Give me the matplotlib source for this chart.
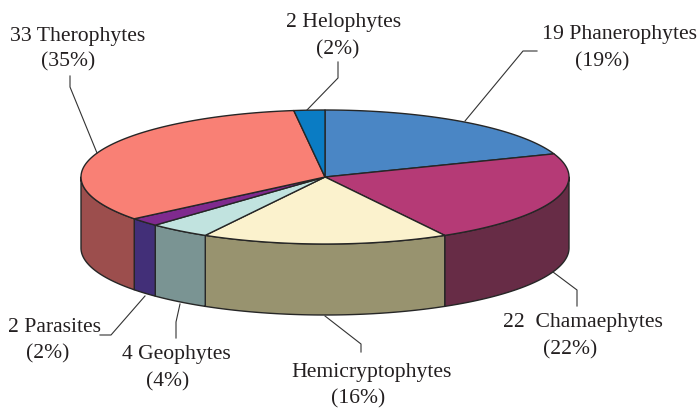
import matplotlib
matplotlib.use("Agg")
import matplotlib.pyplot as plt
import numpy as np
from matplotlib.patches import Polygon

# clockwise from 12 o'clock
species = ["Phanerophytes", "Chamaephytes", "Hemicryptophytes", "Geophytes",
           "Parasites", "Therophytes", "Helophytes"]
counts = [19, 22, 16, 4, 2, 33, 2]
top_colors = ["#4a86c5", "#b53a76", "#fbf2cd", "#c1e3df", "#7f2a8e", "#f98075", "#0a7cc4"]
side_colors = ["#2f5580", "#672c46", "#98936f", "#7a9493", "#422f78", "#9c4e4d", "#06507f"]

names = ["19 Phanerophytes", "22  Chamaephytes", "Hemicryptophytes", "4 Geophytes",
         "2 Parasites", "33 Therophytes", "2 Helophytes"]
percents = ["(19%)", "(22%)", "(16%)", "(4%)", "(2%)", "(35%)", "(2%)"]
name_xy = [(620, 35), (583, 322), (371, 372), (176, 355), (55, 328), (78, 36), (344, 23)]
percent_xy = [(602, 62), (570, 350), (358, 399), (168, 382), (48, 354), (68, 62), (338, 50)]
leaders = [
    [(465, 121), (523, 51), (537, 51)],
    [(553, 272), (577, 290), (577, 306)],
    [(325, 316), (361, 344), (361, 352)],
    [(180, 304), (176, 322), (176, 338)],
    [(145, 296), (111, 335), (100, 335)],
    [(97, 153), (70, 87), (70, 76)],
    [(307, 110), (338, 78), (338, 62)],
]

cx, cy = 325, 177
rx, ry = 244, 67
depth = 71
edge = "#262626"


def ellipse_xy(a):
    return cx + rx * np.sin(a), cy - ry * np.cos(a)


fig = plt.figure(figsize=(6.99, 4.08), dpi=100)
ax = fig.add_axes([0, 0, 1, 1])
ax.set_xlim(0, 699)
ax.set_ylim(408, 0)
ax.axis("off")

bounds = 2 * np.pi * np.concatenate([[0], np.cumsum(counts)]) / sum(counts)

# side wall, only the front half is visible
for i in range(len(counts)):
    a0 = max(bounds[i], np.pi / 2)
    a1 = min(bounds[i + 1], 3 * np.pi / 2)
    if a1 <= a0:
        continue
    t = np.linspace(a0, a1, 80)
    x, y = ellipse_xy(t)
    pts = np.r_[np.c_[x, y], np.c_[x[::-1], y[::-1] + depth]]
    ax.add_patch(Polygon(pts, closed=True, facecolor=side_colors[i],
                         edgecolor=edge, linewidth=1.0, joinstyle="round"))

# top face
for i in range(len(counts)):
    t = np.linspace(bounds[i], bounds[i + 1], 120)
    x, y = ellipse_xy(t)
    pts = np.r_[[(cx, cy)], np.c_[x, y]]
    ax.add_patch(Polygon(pts, closed=True, facecolor=top_colors[i],
                         edgecolor=edge, linewidth=1.0, joinstyle="round"))

for line in leaders:
    xs, ys = zip(*line)
    ax.plot(xs, ys, color="#333333", linewidth=0.8)

for text, (tx, ty) in zip(names + percents, name_xy + percent_xy):
    ax.text(tx, ty, text, ha="center", va="center", family="Liberation Serif",
            fontsize=15.6, color="#231f20")

fig.savefig("out.png", dpi=100)
